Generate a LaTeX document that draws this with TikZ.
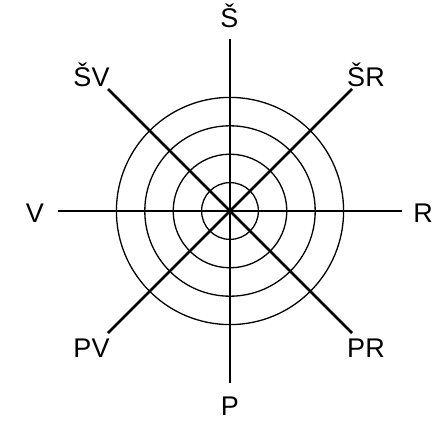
\documentclass[tikz,border=0pt]{standalone}
\usepackage{fontspec}
\setmainfont{Liberation Sans}
\begin{document}
\begin{tikzpicture}[x=1pt,y=-1pt,
  ray/.style={line width=2.7pt},
  ring/.style={line width=1.3pt},
  lbl/.style={anchor=base,inner sep=0pt,font=\fontsize{27}{32}\selectfont}]
\useasboundingbox (0,0) rectangle (445,428);
\coordinate (c) at (230,211);
\foreach \r in {28.4,56.8,85.2,113.6} \draw[ring] (c) circle[radius=\r];
\coordinate (n) at (230,39);
\coordinate (s) at (230,383);
\coordinate (w) at (58,211);
\coordinate (e) at (402,211);
\coordinate (nw) at (108,89);
\coordinate (se) at (352,333);
\coordinate (ne) at (352,89);
\coordinate (sw) at (108,333);
\draw[ray] (n) -- (s);
\draw[ray] (w) -- (e);
\draw[ray] (nw) -- (se);
\draw[ray] (ne) -- (sw);
\node[lbl] (ln) at (229.5,28) {Š};
\node[lbl] (ls) at (230,415) {P};
\node[lbl] (lw) at (35,222) {V};
\node[lbl] (le) at (423,222) {R};
\node[lbl] (lnw) at (91.5,87) {ŠV};
\node[lbl] (lne) at (366,87) {ŠR};
\node[lbl] (lsw) at (91.5,357) {PV};
\node[lbl] (lse) at (366,357) {PR};
\end{tikzpicture}
\end{document}
